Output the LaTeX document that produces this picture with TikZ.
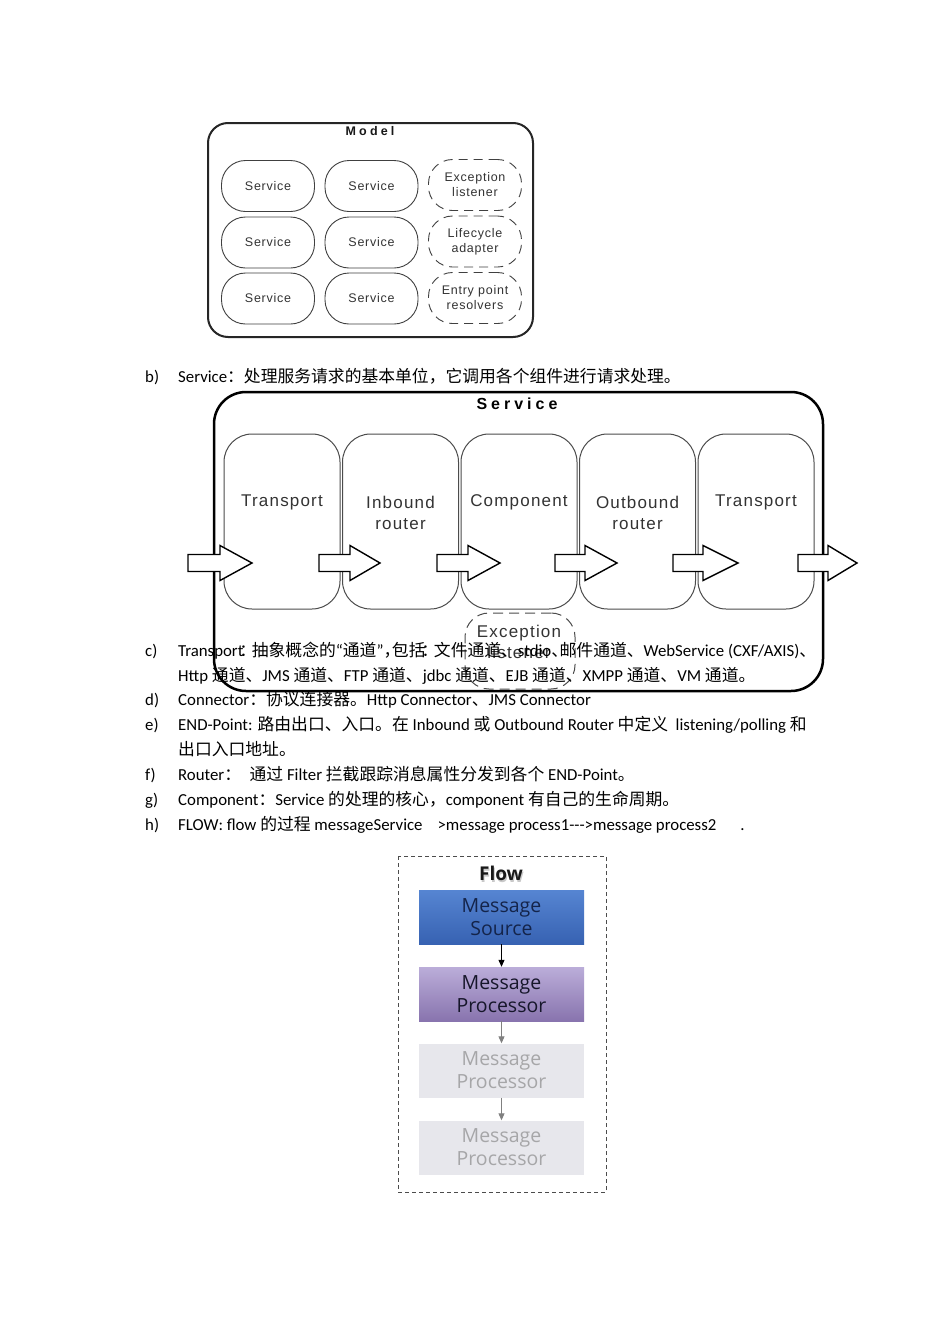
\documentclass[tikz,border=0pt]{standalone}
\usepackage{fontspec}
\setmainfont{Carlito}
\newfontfamily\cjk{Noto Sans CJK SC}
\newfontfamily\mdlfont[LetterSpace=6]{Liberation Sans}
\newfontfamily\ttlfont[LetterSpace=25]{Liberation Sans}
\newfontfamily\svcfont[LetterSpace=7]{Liberation Sans}
\newfontfamily\flowfont{Open Sans}
\newcommand\zh[1]{{\cjk #1}}
\newcommand\hp[1]{\makebox[0.5em][c]{\cjk #1}}
\newcommand\hpl[1]{\makebox[0.5em][l]{\cjk #1}}
\usetikzlibrary{arrows.meta}
\definecolor{srctop}{HTML}{5685D2}
\definecolor{srcbot}{HTML}{3762B2}
\definecolor{srctxt}{HTML}{14244A}
\definecolor{prctop}{HTML}{BBADD9}
\definecolor{prcbot}{HTML}{8874AE}
\definecolor{prctxt}{HTML}{16162A}
\definecolor{gbox}{HTML}{E7E7EC}
\definecolor{gtxt}{HTML}{A6A6A8}
\tikzset{
  body/.style={anchor=base west, inner sep=0pt, font=\fontsize{16.8}{25}\selectfont},
  mdlbox/.style={draw=black!75, line width=0.9pt, rounded corners=24pt, minimum width=93pt, minimum height=51pt, inner sep=0pt, align=center, font=\mdlfont\fontsize{12.5}{15}\selectfont, text=black!80},
  mdldash/.style={mdlbox, dash pattern=on 9pt off 6pt},
  stage/.style={draw=black!70, line width=1pt, rounded corners=28pt, minimum width=116pt, minimum height=175pt, inner sep=0pt},
  stagetxt/.style={align=center, inner sep=0pt, font=\svcfont\fontsize{17}{21}\selectfont, text=black!80},
  fatarr/.style={draw=black, line width=1.4pt, fill=white, line join=miter},
  flowbox/.style={minimum width=165pt, minimum height=54pt, inner sep=0pt, align=center, font=\flowfont\fontsize{19.5}{23}\selectfont},
}
\newcommand\fatarrow[3]{\draw[fatarr] (#1,554.5) -- (#2,554.5) -- (#2,545.5) -- (#3,563) -- (#2,580.5) -- (#2,571.5) -- (#1,571.5) -- cycle;}
\begin{document}
\begin{tikzpicture}[x=1pt,y=-1pt]
\useasboundingbox[fill=white] (0,0) rectangle (950,1344);
% ---------------- Model ----------------
\draw[line width=2pt, black!85, rounded corners=20pt] (208,123) rectangle (533,337);
\node[font=\ttlfont\bfseries\fontsize{12.5}{14}\selectfont, text=black!90] (mtitle) at (370,131) {Model};
\node[mdlbox] (s11) at (268,186) {Service};
\node[mdlbox] (s12) at (371.5,186) {Service};
\node[mdlbox] (s21) at (268,242.5) {Service};
\node[mdlbox] (s22) at (371.5,242.5) {Service};
\node[mdlbox] (s31) at (268,298.5) {Service};
\node[mdlbox] (s32) at (371.5,298.5) {Service};
\node[mdldash] (exl) at (475,185) {Exception\\listener};
\node[mdldash] (lca) at (475,241.5) {Lifecycle\\adapter};
\node[mdldash] (epr) at (475,298) {Entry point\\resolvers};
% ---------------- b) ----------------
\node[body] (lb) at (145,382.5) {b)};
\node[body] (tb) at (178,382.5) {Service\zh{：处理服务请求的基本单位，它调用各个组件进行请求处理。}};
% ---------------- Service ----------------
\draw[line width=2.5pt, rounded corners=32pt] (214,392) rectangle (823,691);
\node[font=\ttlfont\bfseries\fontsize{16}{18}\selectfont] (stitle) at (517,404) {Service};
\node[stage] (b1) at (282,521.5) {};
\node[stage] (b2) at (400.5,521.5) {};
\node[stage] (b3) at (519,521.5) {};
\node[stage] (b4) at (637.5,521.5) {};
\node[stage] (b5) at (756,521.5) {};
\node[stagetxt] (l1) at (282,502) {Transport};
\node[stagetxt] (l2) at (400.5,512.5) {Inbound\\router};
\node[stagetxt] (l3) at (519,502) {Component};
\node[stagetxt] (l4) at (637.5,512.5) {Outbound\\router};
\node[stagetxt] (l5) at (756,502) {Transport};
\fatarrow{188}{220}{252}
\fatarrow{319}{350}{380}
\fatarrow{437}{468}{500}
\fatarrow{555}{585}{617}
\fatarrow{673}{703}{738}
\fatarrow{798}{828}{857}
\node[draw=black!70, line width=1pt, dash pattern=on 10pt off 6pt, rounded corners=24pt, minimum width=110pt, minimum height=76pt] (exc) at (520,651) {};
\node[stagetxt] (excl) at (519,641.5) {Exception\\listener};
% ---------------- text c) - h) ----------------
\node[body] (lc) at (145,656.5) {c)};
\node[body] (tc1) at (178,656.5) {Transport\hp{：}\zh{抽象概念的}“\zh{通道}”\hpl{，}\zh{包括}\hp{：}\zh{文件通道、}stdio\hpl{、}\zh{邮件通道、}WebService (CXF/AXIS)\zh{、}};
\node[body] (tc2) at (178,681.5) {Http \zh{通道、}JMS \zh{通道、}FTP \zh{通道、}jdbc \zh{通道、}EJB \zh{通道、}XMPP \zh{通道、}VM \zh{通道。}};
\node[body] (ld) at (145,705.5) {d)};
\node[body] (td) at (178,705.5) {Connector\zh{：协议连接器。}Http Connector\zh{、}JMS Connector};
\node[body] (le) at (145,730.5) {e)};
\node[body] (te1) at (178,730.5) {END-Point: \zh{路由出口、入口。在} Inbound \zh{或} Outbound Router \zh{中定义}\ \ listening/polling \zh{和}};
\node[body] (te2) at (178,755.5) {\zh{出口入口地址。}};
\node[body] (lf) at (145,780.5) {f)};
\node[body] (tf) at (178,780.5) {Router\zh{：}\hspace{8.5pt}\zh{通过} Filter \zh{拦截跟踪消息属性分发到各个} END-Point\zh{。}};
\node[body] (lg) at (145,805.5) {g)};
\node[body] (tg) at (178,805.5) {Component\zh{：}Service \zh{的处理的核心，}component \zh{有自己的生命周期。}};
\node[body] (lh) at (145,830.5) {h)};
\node[body] (th) at (178,830.5) {FLOW: flow \zh{的过程} messageService\hspace{15pt}>message process1-{}-{}->message process2\hspace{24pt}.};
% ---------------- Flow ----------------
\draw[black!70, line width=1pt, dash pattern=on 4pt off 3pt] (398,856) rectangle (606,1192);
\node[font=\flowfont\bfseries\fontsize{19}{22}\selectfont, text=black!60, opacity=0.35] (fshadow) at (502,875) {Flow};
\node[font=\flowfont\bfseries\fontsize{19}{22}\selectfont, text=black!90] (ftitle) at (501,873) {Flow};
\node[flowbox, top color=srctop, bottom color=srcbot, text=srctxt] (src) at (501.5,917) {Message\\Source};
\node[flowbox, top color=prctop, bottom color=prcbot, text=prctxt] (p1) at (501.5,994) {Message\\Processor};
\node[flowbox, fill=gbox, text=gtxt] (p2) at (501.5,1070.5) {Message\\Processor};
\node[flowbox, fill=gbox, text=gtxt] (p3) at (501.5,1147.5) {Message\\Processor};
\draw[-{Triangle[length=7pt,width=6pt]}, line width=1pt, black] (src) -- (p1);
\draw[-{Triangle[length=7pt,width=6pt]}, line width=1pt, black!50] (p1) -- (p2);
\draw[-{Triangle[length=7pt,width=6pt]}, line width=1pt, black!50] (p2) -- (p3);
\end{tikzpicture}
\end{document}
